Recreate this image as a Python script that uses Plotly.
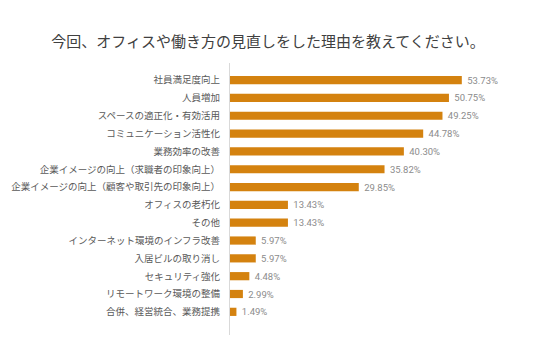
import plotly.graph_objects as go

categories = [
    "社員満足度向上",
    "人員増加",
    "スペースの適正化・有効活用",
    "コミュニケーション活性化",
    "業務効率の改善",
    "企業イメージの向上（求職者の印象向上）",
    "企業イメージの向上（顧客や取引先の印象向上）",
    "オフィスの老朽化",
    "その他",
    "インターネット環境のインフラ改善",
    "入居ビルの取り消し",
    "セキュリティ強化",
    "リモートワーク環境の整備",
    "合併、経営統合、業務提携",
]
values = [53.73, 50.75, 49.25, 44.78, 40.30, 35.82, 29.85, 13.43, 13.43, 5.97, 5.97, 4.48, 2.99, 1.49]
title = "今回、オフィスや働き方の見直しをした理由を教えてください。"

fig = go.Figure(go.Bar(
    x=values,
    y=categories,
    orientation="h",
    marker=dict(color="#D4820F", line=dict(width=0)),
    width=0.46,
    text=[f"\u00a0{v:.2f}%" for v in values],
    textposition="outside",
    constraintext="none",
    textfont=dict(family="Roboto, sans-serif", size=9.5, color="#8C8C8C"),
    cliponaxis=False,
))

fig.update_layout(
    width=536, height=353,
    margin=dict(l=230, r=4, t=63, b=18),
    paper_bgcolor="white",
    plot_bgcolor="white",
    showlegend=False,
    title=dict(text=title, x=0.5, xanchor="center", y=1 - 42 / 353, yanchor="middle",
               font=dict(family="Noto Sans CJK JP", size=15, color="#404040")),
    xaxis=dict(range=[0, 70], visible=False, showgrid=False, zeroline=False),
    yaxis=dict(
        type="category",
        categoryorder="array",
        categoryarray=categories,
        range=[14.3, -0.96],
        showline=True, linecolor="#D9D9D9", linewidth=1,
        showgrid=False, zeroline=False,
        ticks="", ticklabelstandoff=7,
        tickfont=dict(family="Noto Sans CJK JP", size=9.5, color="#595959"),
    ),
)

fig.write_html("out.html")
